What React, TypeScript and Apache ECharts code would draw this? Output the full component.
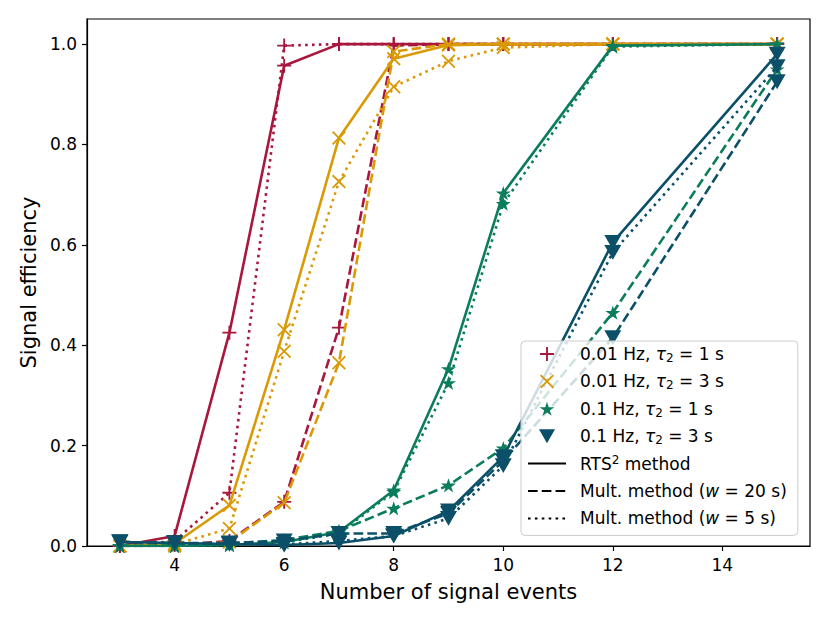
import React, { useEffect, useRef } from "react";
import * as echarts from "echarts";

// ---- data ----
const xValues = [3, 4, 5, 6, 7, 8, 9, 10, 12, 15];
const xTicks = [4, 6, 8, 10, 12, 14];
const yTicks = [0, 0.2, 0.4, 0.6, 0.8, 1.0];

const red1Solid = [0.0, 0.02, 0.425, 0.957, 1.0, 1.0, 1.0, 1.0, 1.0, 1.0];
const red1Dashed = [0.0, 0.002, 0.01, 0.088, 0.435, 0.997, 1.0, 1.0, 1.0, 1.0];
const red1Dotted = [0.0, 0.01, 0.106, 0.997, 1.0, 1.0, 1.0, 1.0, 1.0, 1.0];

const yel3Solid = [0.0, 0.005, 0.081, 0.431, 0.813, 0.971, 0.998, 1.0, 1.0, 1.0];
const yel3Dashed = [0.0, 0.0, 0.008, 0.086, 0.365, 0.985, 1.0, 1.0, 1.0, 1.0];
const yel3Dotted = [0.0, 0.003, 0.035, 0.388, 0.726, 0.915, 0.966, 0.993, 1.0, 1.0];

const grn1Solid = [0.0, 0.0, 0.002, 0.008, 0.028, 0.111, 0.353, 0.703, 0.997, 1.0];
const grn1Dashed = [0.0, 0.001, 0.005, 0.012, 0.03, 0.075, 0.121, 0.195, 0.465, 0.95];
const grn1Dotted = [0.0, 0.0, 0.002, 0.007, 0.025, 0.108, 0.325, 0.682, 0.995, 1.0];

const blu3Solid = [0.008, 0.006, 0.004, 0.002, 0.006, 0.02, 0.07, 0.178, 0.605, 0.98];
const blu3Dashed = [0.008, 0.006, 0.006, 0.01, 0.025, 0.025, 0.065, 0.17, 0.415, 0.925];
const blu3Dotted = [0.008, 0.006, 0.004, 0.003, 0.01, 0.02, 0.055, 0.16, 0.585, 0.955];

const sourceNames = [
  "0.01 Hz, τ2 = 1 s",
  "0.01 Hz, τ2 = 3 s",
  "0.1 Hz, τ2 = 1 s",
  "0.1 Hz, τ2 = 3 s",
];
const methodNames = ["RTS2 method", "Mult. method (w = 20 s)", "Mult. method (w = 5 s)"];

// ---- styles ----
const colors = ["#a8173d", "#d99a06", "#0b7d5c", "#0b5068"];
const PLUS =
  "path://M-0.8,-6 L0.8,-6 L0.8,-0.8 L6,-0.8 L6,0.8 L0.8,0.8 L0.8,6 L-0.8,6 L-0.8,0.8 L-6,0.8 L-6,-0.8 L-0.8,-0.8 Z";
const CROSS =
  "path://M-4.9,-6 L0,-1.1 L4.9,-6 L6,-4.9 L1.1,0 L6,4.9 L4.9,6 L0,1.1 L-4.9,6 L-6,4.9 L-1.1,0 L-6,-4.9 Z";
const STAR =
  "path://M0,-1 L0.225,-0.309 L0.951,-0.309 L0.363,0.118 L0.588,0.809 L0,0.382 L-0.588,0.809 L-0.363,0.118 L-0.951,-0.309 L-0.225,-0.309 Z";
const TRI = "path://M-1,-0.87 L1,-0.87 L0,0.87 Z";
const symbols = [PLUS, CROSS, STAR, TRI];
const symbolSizes = [14, 14, 15, 17];
const LW = 2.6;
const dashTypes: any[] = ["solid", [3.7 * LW, 1.6 * LW], [1 * LW, 1.65 * LW]];

const groups = [
  [red1Solid, red1Dashed, red1Dotted],
  [yel3Solid, yel3Dashed, yel3Dotted],
  [grn1Solid, grn1Dashed, grn1Dotted],
  [blu3Solid, blu3Dashed, blu3Dotted],
];

function legendRich(name: string): string {
  if (name.startsWith("RTS")) return "RTS{sup|2} method";
  if (name.startsWith("Mult.")) {
    return name.replace("(w", "({i|w}");
  }
  return name.replace("τ2", "{i|τ}{sub|2}");
}

export default function App() {
  const ref = useRef<HTMLDivElement>(null);
  useEffect(() => {
    document.body.style.margin = "0";
    if (!ref.current) return;
    const chart = echarts.init(ref.current, null, { renderer: "svg" });

    const series: any[] = [];
    groups.forEach((g, ci) => {
      g.forEach((vals, mi) => {
        series.push({
          type: "line",
          name: `s${ci}_${mi}`,
          data: xValues.map((x, i) => [x, vals[i]]),
          symbol: symbols[ci],
          symbolSize: symbolSizes[ci],
          symbolKeepAspect: true,
          showSymbol: true,
          showAllSymbol: true,
          itemStyle: { color: colors[ci] },
          lineStyle: { color: colors[ci], width: LW, type: dashTypes[mi], cap: "butt" },
          z: 2 + ci,
          emphasis: { disabled: true },
        });
      });
    });
    sourceNames.forEach((n, ci) => {
      series.push({
        type: "line",
        name: n,
        data: [],
        symbol: symbols[ci],
        itemStyle: { color: colors[ci] },
        lineStyle: { color: colors[ci] },
      });
    });
    methodNames.forEach((n, mi) => {
      series.push({
        type: "line",
        name: n,
        data: [],
        symbol: "none",
        itemStyle: { color: "rgba(0,0,0,0)" },
        lineStyle: { color: "#000", width: 2.2, type: dashTypes[mi] },
      });
    });

    const legendData: any[] = [
      ...sourceNames.map((n, ci) => ({
        name: n,
        icon: symbols[ci],
        itemStyle: { color: colors[ci] },
      })),
      ...methodNames.map((n) => ({
        name: n,
        itemStyle: { color: "rgba(0,0,0,0)", borderWidth: 0, opacity: 0 },
        lineStyle: { color: "#000", opacity: 1 },
      })),
    ];

    chart.setOption({
      animation: false,
      textStyle: { fontFamily: "DejaVu Sans", color: "#000" },
      grid: { left: 87, right: 20, top: 19, bottom: 77, show: true, borderColor: "#000", borderWidth: 1.2, backgroundColor: "transparent" },
      xAxis: {
        type: "value",
        min: 2.4,
        max: 15.6,
        name: "Number of signal events",
        nameLocation: "middle",
        nameGap: 35,
        nameTextStyle: { fontSize: 21, color: "#000", fontFamily: "DejaVu Sans" },
        axisLine: { show: true, onZero: false, lineStyle: { color: "#000", width: 1.2 } },
        axisTick: { show: true, inside: false, length: 5, lineStyle: { color: "#000", width: 1.2 }, customValues: xTicks },
        axisLabel: { show: true, fontSize: 17, color: "#000", margin: 10, customValues: xTicks, formatter: (v: number) => String(v) },
        splitLine: { show: false },
      },
      yAxis: {
        type: "value",
        min: 0,
        max: 1.05,
        name: "Signal efficiency",
        nameLocation: "middle",
        nameGap: 46,
        nameRotate: 90,
        nameTextStyle: { fontSize: 21, color: "#000", fontFamily: "DejaVu Sans" },
        axisLine: { show: true, onZero: false, lineStyle: { color: "#000", width: 1.2 } },
        axisTick: { show: true, inside: false, length: 5, lineStyle: { color: "#000", width: 1.2 }, customValues: yTicks },
        axisLabel: { show: true, fontSize: 17, color: "#000", margin: 10, customValues: yTicks, formatter: (v: number) => v.toFixed(1) },
        splitLine: { show: false },
      },
      legend: {
        show: true,
        orient: "vertical",
        left: 521,
        top: 341,
        z: 20,
        data: legendData,
        itemWidth: 38,
        itemHeight: 14,
        itemGap: 7.4,
        padding: [3, 11, 7, 6],
        backgroundColor: "rgba(255,255,255,0.8)",
        borderColor: "#cccccc",
        borderWidth: 1,
        borderRadius: 4,
        selectedMode: false,
        formatter: (name: string) => legendRich(name),
        textStyle: {
          fontSize: 17,
          lineHeight: 20,
          color: "#000",
          fontFamily: "DejaVu Sans",
          padding: [0, 0, 0, 9],
          rich: {
            i: { fontSize: 17, fontStyle: "italic", lineHeight: 20, fontFamily: "DejaVu Sans" },
            sub: { fontSize: 12, lineHeight: 20, verticalAlign: "bottom", padding: [6, 0, 0, 0], fontFamily: "DejaVu Sans" },
            sup: { fontSize: 12, lineHeight: 20, verticalAlign: "top", padding: [0, 0, 6, 0], fontFamily: "DejaVu Sans" },
          },
        },
      },
      series,
    });
    return () => chart.dispose();
  }, []);
  return <div ref={ref} style={{ width: 830, height: 623 }} />;
}
